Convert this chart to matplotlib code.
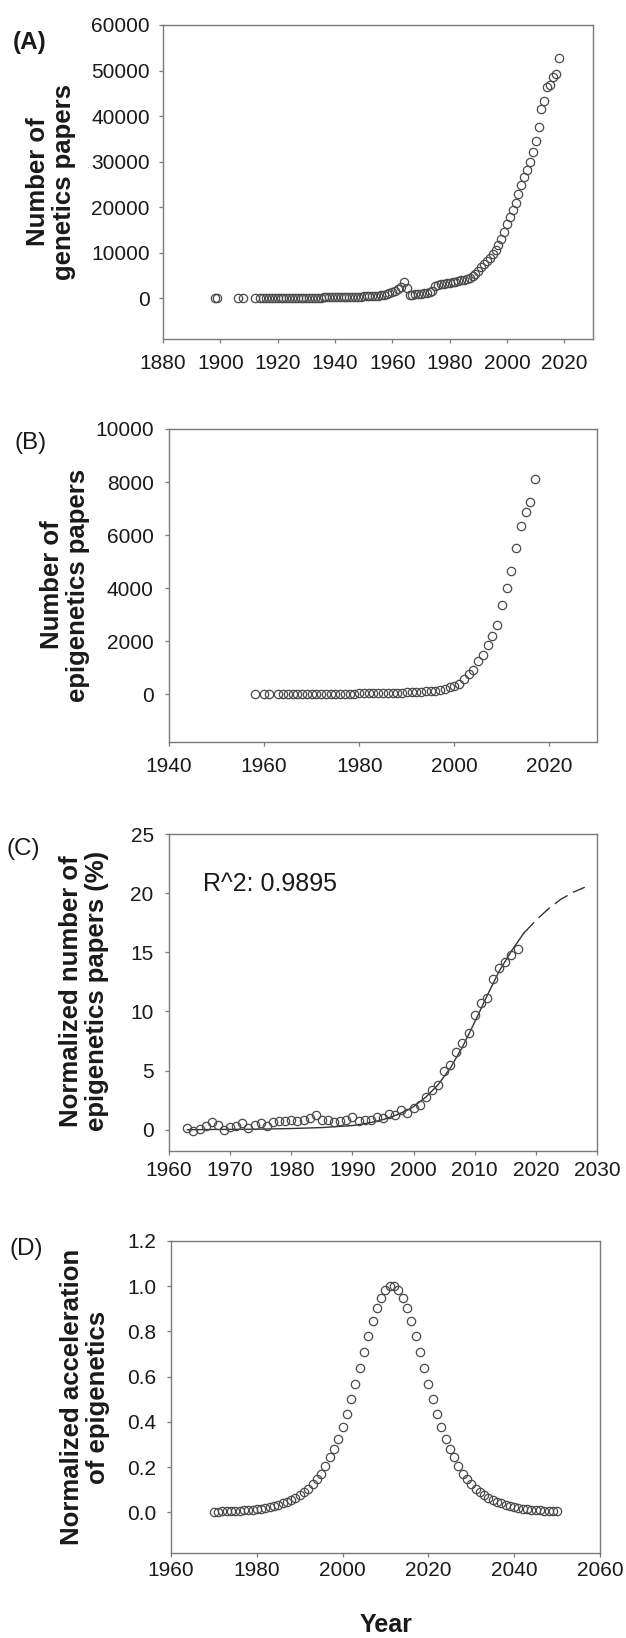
import numpy as np
import matplotlib
matplotlib.use("Agg")
import matplotlib.pyplot as plt
from matplotlib.ticker import FormatStrFormatter

plt.rcParams["font.family"] = ["Liberation Sans", "DejaVu Sans"]

W, H = 626, 1638

# (A) genetics papers per year
gen_years = [1898, 1899, 1906, 1908, 1912] + list(range(1914, 2019))
gen_counts = [5, 5, 5, 5, 5,
              40, 45, 40, 35, 40, 50,
              55, 60, 60, 65, 70, 70, 75, 80, 85, 90,
              90, 95, 100, 100, 110, 115, 120, 125, 130, 140,
              135, 130, 125, 130, 150, 170, 220, 260, 290, 330,
              420, 380, 400, 430, 470, 520, 600, 700, 850, 1000,
              1300, 1600, 1900, 2500, 3600, 2150, 650, 700, 780, 850,
              950, 1050, 1150, 1300, 1500, 2600, 2900, 3000, 3100, 3200,
              3300, 3450, 3600, 3750, 3900, 4050, 4250, 4500, 4800, 5300,
              6000, 6800, 7500, 8200, 8900, 9600, 10500, 11600, 13000, 14500,
              16200, 17800, 19300, 20800, 22800, 24800, 26500, 28200, 30000, 32000,
              34500, 37600, 41500, 43400, 46400, 46900, 48500, 49200, 52700]

# (B) epigenetics papers per year
epi_years = [1958, 1960, 1961] + list(range(1963, 2018))
epi_counts = [2, 2, 2,
              5, 6, 8, 10, 10, 12, 12, 14, 15, 16,
              18, 20, 20, 22, 24, 26, 28, 30, 32, 34,
              36, 40, 45, 50, 55, 60, 65, 75, 80, 90,
              100, 110, 125, 140, 170, 200, 260, 300, 400, 580,
              750, 900, 1245, 1470, 1870, 2200, 2620, 3350, 3990, 4640,
              5520, 6350, 6870, 7230, 8100]

# (C) normalized epigenetics papers (%) + logistic fit
norm_years = list(range(1963, 2018))
norm_pct = [0.18, -0.1, 0.1, 0.3, 0.65, 0.4, 0.0, 0.25, 0.3, 0.55,
            0.15, 0.4, 0.55, 0.3, 0.65, 0.7, 0.75, 0.85, 0.7, 0.85,
            1.0, 1.25, 0.85, 0.8, 0.65, 0.7, 0.85, 1.1, 0.7, 0.8,
            0.85, 1.1, 1.0, 1.35, 1.25, 1.7, 1.4, 1.85, 2.1, 2.8,
            3.35, 3.8, 4.95, 5.5, 6.6, 7.3, 8.2, 9.7, 10.7, 11.1,
            12.7, 13.65, 14.2, 14.8, 15.3]
fit_years = [1963, 1970, 1975, 1980, 1985, 1990, 1993, 1995, 1997, 1999,
             2000, 2002, 2004, 2006, 2008, 2010, 2012, 2014, 2016, 2018]
fit_pct = [0.0, 0.03, 0.05, 0.1, 0.18, 0.35, 0.6, 0.85, 1.2, 1.65,
           1.95, 2.75, 3.8, 5.2, 7.0, 9.1, 11.3, 13.4, 15.1, 16.6]
proj_years = [2018, 2020, 2022, 2024, 2026, 2028]
proj_pct = [16.6, 17.7, 18.65, 19.45, 20.05, 20.5]
r2_text = "R^2: 0.9895"

# (D) normalized acceleration
acc_years = list(range(1970, 2051))
acc_vals = [0.003, 0.003, 0.004, 0.004, 0.005, 0.006, 0.007, 0.008, 0.009, 0.011,
            0.013, 0.016, 0.019, 0.023, 0.028, 0.033, 0.039, 0.046, 0.055, 0.065,
            0.077, 0.09, 0.105, 0.125, 0.147, 0.17, 0.206, 0.243, 0.28, 0.326,
            0.378, 0.437, 0.5, 0.569, 0.638, 0.709, 0.78, 0.846, 0.904, 0.949,
            0.985, 1.0,
            1.0, 0.985, 0.949, 0.904, 0.846, 0.78, 0.709, 0.638, 0.569, 0.5,
            0.437, 0.378, 0.326, 0.28, 0.243, 0.206, 0.17, 0.147, 0.125, 0.105,
            0.09, 0.077, 0.065, 0.055, 0.046, 0.039, 0.033, 0.028, 0.023, 0.019,
            0.016, 0.013, 0.011, 0.009, 0.008, 0.007, 0.006, 0.005, 0.004]

SPINE = "#7a7a7a"
MK = "#4a4a4a"
TXT = "#1a1a1a"

fig = plt.figure(figsize=(W / 100, H / 100), dpi=100)
fig.patch.set_facecolor("white")


def px_axes(left, top, right, bottom):
    return fig.add_axes([left / W, 1 - bottom / H, (right - left) / W,
                         (bottom - top) / H])


def px_text(x, y, s, **kw):
    return fig.text(x / W, 1 - y / H, s, color=TXT, **kw)


def style(ax, xpad, ypad):
    for sp in ax.spines.values():
        sp.set_color(SPINE)
        sp.set_linewidth(1.0)
    ax.tick_params(direction="out", length=3, width=0.9, color=SPINE,
                   labelsize=15, labelcolor=TXT)
    ax.tick_params(axis="x", pad=xpad)
    ax.tick_params(axis="y", pad=ypad)


def scatter(ax, x, y):
    ax.plot(x, y, "o", mfc="none", mec=MK, ms=6.0, mew=0.9, ls="none")


# Panel A
axA = px_axes(163, 25, 593, 339)
scatter(axA, gen_years, gen_counts)
axA.set_xlim(1880, 2030)
axA.set_ylim(-9000, 60000)
axA.set_xticks(range(1880, 2021, 20))
axA.set_yticks(range(0, 60001, 10000))
style(axA, 7.5, 6.5)

# Panel B
axB = px_axes(169, 429, 597, 742)
scatter(axB, epi_years, epi_counts)
axB.set_xlim(1940, 2030)
axB.set_ylim(-1800, 10000)
axB.set_xticks(range(1940, 2021, 20))
axB.set_yticks(range(0, 10001, 2000))
style(axB, 7.5, 8)

# Panel C
axC = px_axes(169, 834, 597, 1151)
axC.plot(fit_years, fit_pct, color="#333333", lw=1.0)
axC.plot(proj_years, proj_pct, color="#333333", lw=1.0, ls=(0, (11, 4.5)))
scatter(axC, norm_years, norm_pct)
axC.set_xlim(1960, 2030)
axC.set_ylim(-1.8, 25)
axC.set_xticks(range(1960, 2031, 10))
axC.set_yticks(range(0, 26, 5))
axC.text(1965.6, 20.2, r2_text, fontsize=18, color=TXT, va="baseline")
style(axC, 4, 8)

# Panel D
axD = px_axes(171, 1241, 600, 1553)
scatter(axD, acc_years, acc_vals)
axD.set_xlim(1960, 2060)
axD.set_ylim(-0.18, 1.2)
axD.set_xticks(range(1960, 2061, 20))
axD.set_yticks(np.arange(0, 1.21, 0.2))
axD.yaxis.set_major_formatter(FormatStrFormatter("%.1f"))
style(axD, 2.7, 7.5)

# axis titles
ylab = dict(rotation=90, ha="center", va="center", fontsize=18.5,
            fontweight="bold", linespacing=1.15, multialignment="center")
px_text(51, 182, "Number of\ngenetics papers", **ylab)
px_text(65, 585, "Number of\nepigenetics papers", **ylab)
px_text(84, 991, "Normalized number of\nepigenetics papers (%)", **ylab)
px_text(85, 1397, "Normalized acceleration\nof epigenetics", **ylab)
px_text(386, 1625, "Year", ha="center", va="center", fontsize=18,
        fontweight="bold")

# panel letters
px_text(30, 43, "(A)", ha="center", va="center", fontsize=17.5, fontweight="bold")
px_text(31, 443, "(B)", ha="center", va="center", fontsize=17.5)
px_text(23, 849, "(C)", ha="center", va="center", fontsize=17.5)
px_text(26, 1249, "(D)", ha="center", va="center", fontsize=17.5)

fig.savefig("out.png", dpi=100, facecolor="white")
